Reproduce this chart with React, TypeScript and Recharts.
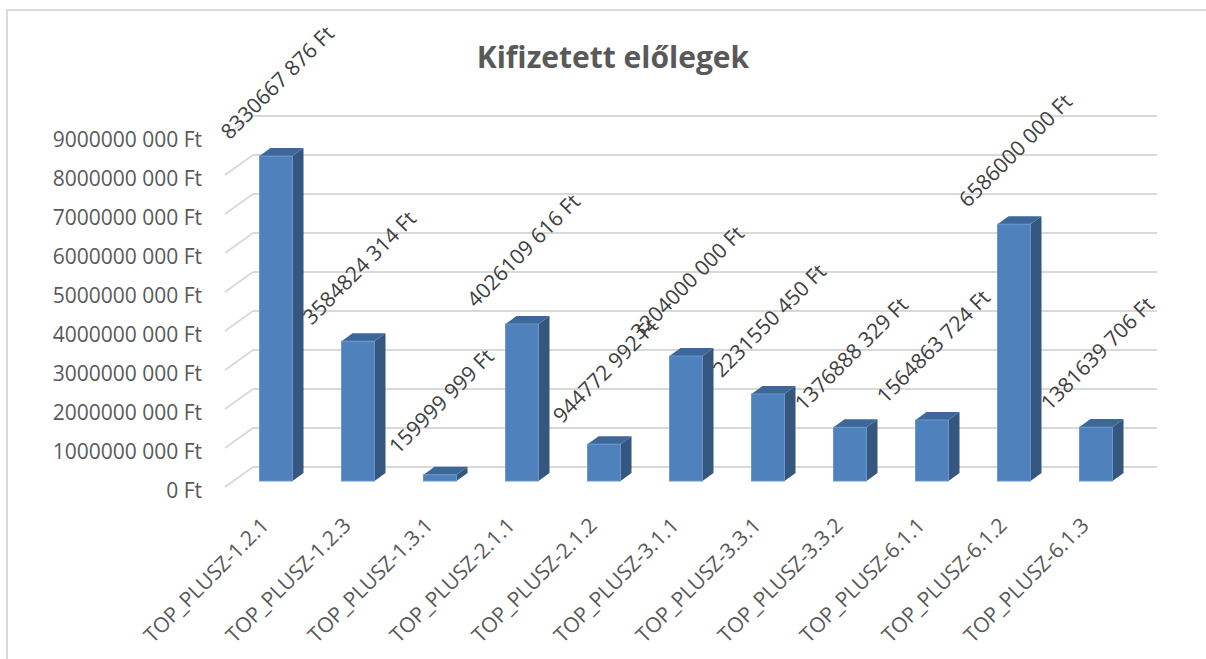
import { BarChart, Bar, XAxis, YAxis, CartesianGrid, LabelList } from "recharts";

const categories = [
  "TOP_PLUSZ-1.2.1",
  "TOP_PLUSZ-1.2.3",
  "TOP_PLUSZ-1.3.1",
  "TOP_PLUSZ-2.1.1",
  "TOP_PLUSZ-2.1.2",
  "TOP_PLUSZ-3.1.1",
  "TOP_PLUSZ-3.3.1",
  "TOP_PLUSZ-3.3.2",
  "TOP_PLUSZ-6.1.1",
  "TOP_PLUSZ-6.1.2",
  "TOP_PLUSZ-6.1.3",
];

const amounts = [
  8330667876, 3584824314, 159999999, 4026109616, 944772992, 3204000000,
  2231550450, 1376888329, 1564863724, 6586000000, 1381639706,
];

const yTicks = [0, 1e9, 2e9, 3e9, 4e9, 5e9, 6e9, 7e9, 8e9, 9e9];

const data = categories.map((name, i) => ({ name, value: amounts[i] }));

const FONT = "'Open Sans', sans-serif";
const DX = 11; // 3d depth of the columns
const DY = 8;

// Hungarian style "8330667 876 Ft"
function fmt(v: number) {
  if (v < 1000) return `${v} Ft`;
  return `${Math.floor(v / 1000)} ${String(v % 1000).padStart(3, "0")} Ft`;
}

function Column3D(props: any) {
  const { x, y, width, height } = props;
  const top = `${x},${y} ${x + DX},${y - DY} ${x + width + DX},${y - DY} ${x + width},${y}`;
  const side = `${x + width},${y} ${x + width + DX},${y - DY} ${x + width + DX},${y + height - DY} ${x + width},${y + height}`;
  return (
    <g>
      <polygon points={side} fill="#34567F" />
      <polygon points={top} fill="#3D6799" />
      <rect x={x} y={y} width={width} height={height} fill="#4F81BD" stroke="#6A96CC" strokeWidth={1} />
    </g>
  );
}

function GridLine(props: any) {
  const { x1, x2, y1 } = props;
  return (
    <g key={props.key}>
      <line x1={x1 - 9.5} y1={y1 + 6} x2={x1 + 18.5} y2={y1 - 14} stroke="#D9D9D9" strokeWidth={2} />
      <line x1={x1 + 18.5} y1={y1 - 14} x2={x2 + 20.5} y2={y1 - 14} stroke="#D9D9D9" strokeWidth={2} />
    </g>
  );
}

function YTick(props: any) {
  const { x, y, payload } = props;
  return (
    <text x={x - 24.5} y={y + 9} textAnchor="end" dominantBaseline="central" fill="#595959" fontSize={21} fontFamily={FONT}>
      {fmt(payload.value)}
    </text>
  );
}

function XTick(props: any) {
  const { x, y, payload } = props;
  const ax = x - 11;
  const ay = y + 32;
  return (
    <text x={ax} y={ay} textAnchor="end" dominantBaseline="central" fill="#595959" fontSize={21} fontFamily={FONT} transform={`rotate(-45, ${ax}, ${ay})`}>
      {payload.value}
    </text>
  );
}

function ValueLabel(props: any) {
  const { x, y, width, value } = props;
  const cx = x + width / 2 + 1;
  const cy = y - 74;
  return (
    <text x={cx} y={cy} textAnchor="middle" dominantBaseline="central" fill="#404040" fontSize={21} fontFamily={FONT} transform={`rotate(-45, ${cx}, ${cy})`}>
      {fmt(value)}
    </text>
  );
}

export default function App() {
  return (
    <div
      style={{
        position: "absolute",
        left: 6,
        top: 9,
        width: 1300,
        height: 700,
        borderLeft: "2px solid #D9D9D9",
        borderTop: "2px solid #D9D9D9",
        background: "#fff",
      }}
    >
      <div
        style={{
          position: "absolute",
          left: 0,
          top: 25,
          width: 1210,
          textAlign: "center",
          fontFamily: FONT,
          fontWeight: 700,
          fontSize: 30,
          color: "#595959",
        }}
      >
        Kifizetett előlegek
      </div>
      <BarChart
        width={1198}
        height={648}
        data={data}
        margin={{ top: 119, right: 69.5, bottom: 28, left: 26.5 }}
        barSize={33}
      >
        <CartesianGrid vertical={false} horizontal={GridLine} />
        <XAxis dataKey="name" interval={0} axisLine={false} tickLine={false} height={150} tick={<XTick />} />
        <YAxis
          width={200}
          domain={[0, 9e9]}
          ticks={yTicks}
          axisLine={false}
          tickLine={false}
          tick={<YTick />}
        />
        <Bar dataKey="value" shape={<Column3D />} isAnimationActive={false}>
          <LabelList dataKey="value" content={<ValueLabel />} />
        </Bar>
      </BarChart>
    </div>
  );
}
